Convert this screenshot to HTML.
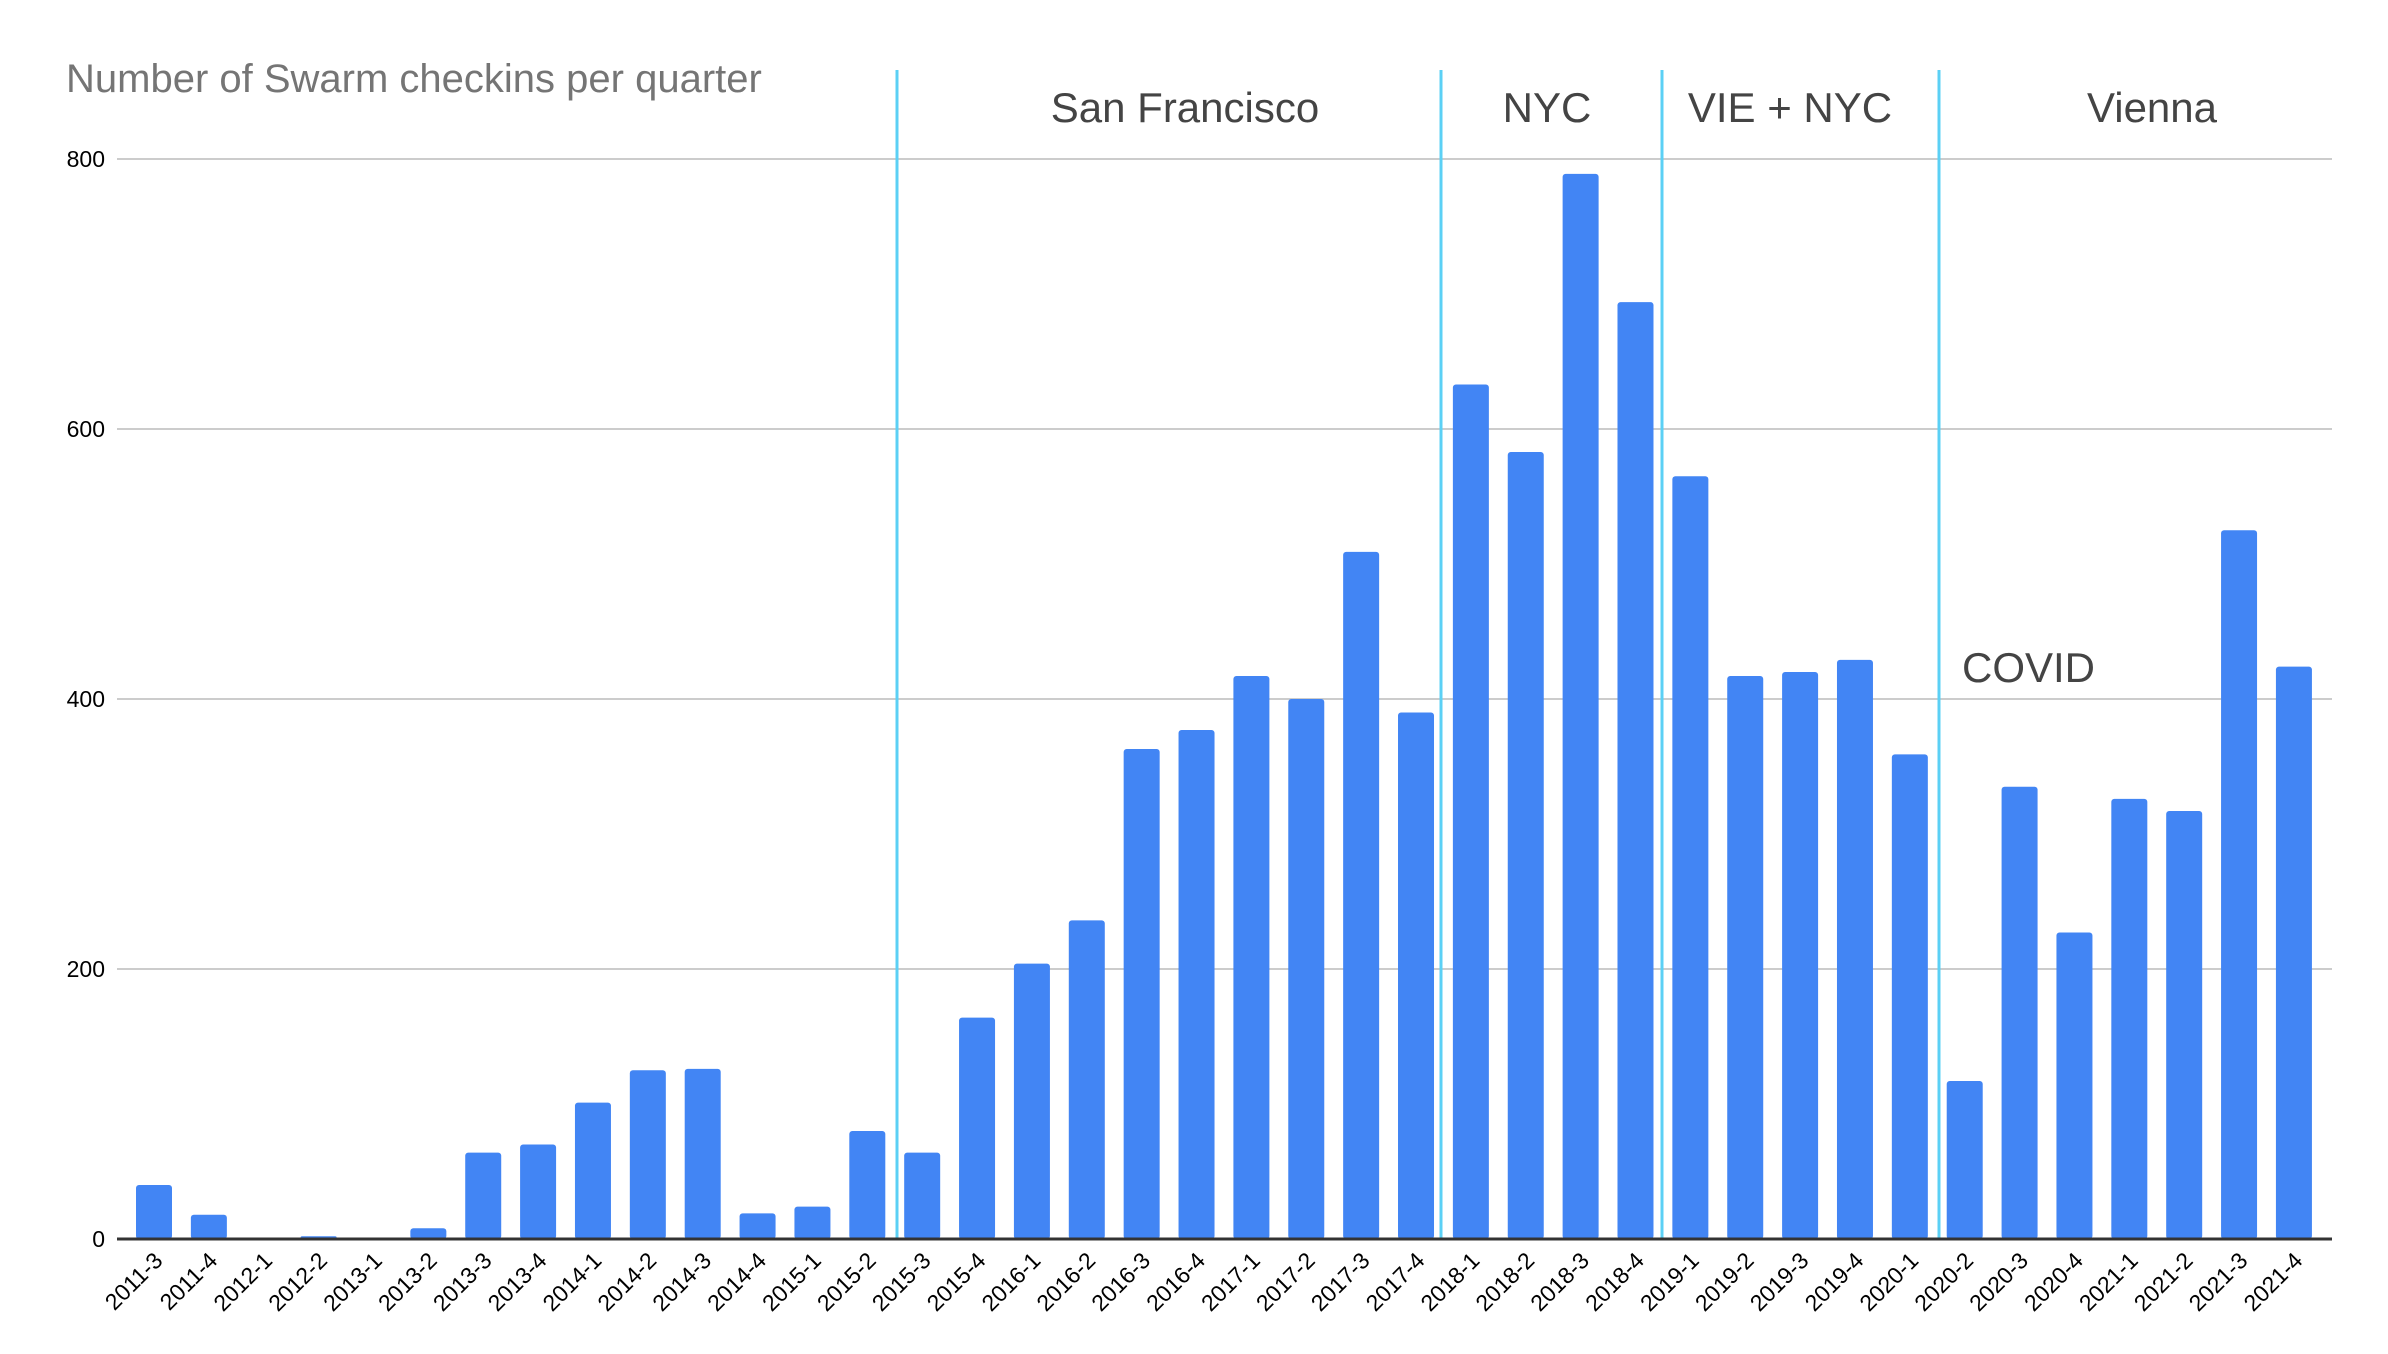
<!DOCTYPE html>
<html><head><meta charset="utf-8"><style>
html,body{margin:0;padding:0;background:#fff;}
svg{display:block;font-family:"Liberation Sans",Arial,sans-serif;}
</style></head><body>
<svg width="2388" height="1354" viewBox="0 0 2388 1354" xmlns="http://www.w3.org/2000/svg">
<rect width="2388" height="1354" fill="#fff"/>
<text x="66" y="92" font-size="40" fill="#757575">Number of Swarm checkins per quarter</text>
<g stroke="#cccccc" stroke-width="2">
<line x1="117" y1="159" x2="2332" y2="159"/>
<line x1="117" y1="429" x2="2332" y2="429"/>
<line x1="117" y1="699" x2="2332" y2="699"/>
<line x1="117" y1="969" x2="2332" y2="969"/>
</g>
<g font-size="23" fill="#000" text-anchor="end">
<text x="105" y="167">800</text>
<text x="105" y="437">600</text>
<text x="105" y="707">400</text>
<text x="105" y="977">200</text>
<text x="105" y="1247">0</text>
</g>
<g id="bars" fill="#4285f4"></g>
<g stroke="#5bd0f5" stroke-width="3">
<line x1="897" y1="70" x2="897" y2="1239"/>
<line x1="1441" y1="70" x2="1441" y2="1239"/>
<line x1="1662" y1="70" x2="1662" y2="1239"/>
<line x1="1939" y1="70" x2="1939" y2="1239"/>
</g>
<line x1="117" y1="1239" x2="2332" y2="1239" stroke="#333" stroke-width="3"/>
<g font-size="42" fill="#444" text-anchor="middle">
<text x="1185" y="122">San Francisco</text>
<text x="1547" y="122">NYC</text>
<text x="1790" y="122">VIE + NYC</text>
<text x="2152" y="122">Vienna</text>
<text x="1962" y="682" text-anchor="start">COVID</text>
</g>
<g id="labels" font-size="23" fill="#000" text-anchor="end"></g>
<script>
var names=["2011-3","2011-4","2012-1","2012-2","2013-1","2013-2","2013-3","2013-4","2014-1","2014-2","2014-3","2014-4","2015-1","2015-2","2015-3","2015-4","2016-1","2016-2","2016-3","2016-4","2017-1","2017-2","2017-3","2017-4","2018-1","2018-2","2018-3","2018-4","2019-1","2019-2","2019-3","2019-4","2020-1","2020-2","2020-3","2020-4","2021-1","2021-2","2021-3","2021-4"];
var vals=[40,18,1,2,1,8,64,70,101,125,126,19,24,80,64,164,204,236,363,377,417,400,509,390,633,583,789,694,565,417,420,429,359,117,335,227,326,317,525,424];
var ns="http://www.w3.org/2000/svg",b=document.getElementById("bars"),l=document.getElementById("labels");
for(var i=0;i<40;i++){var cx=154+i*54.87,h=vals[i]*1.35;
var r=document.createElementNS(ns,"rect");r.setAttribute("x",cx-18);r.setAttribute("y",1239-h);r.setAttribute("width",36);r.setAttribute("height",h);r.setAttribute("rx",Math.min(3,h/2));b.appendChild(r);
var t=document.createElementNS(ns,"text");var tx=cx+10,ty=1262;t.setAttribute("x",tx);t.setAttribute("y",ty);t.setAttribute("transform","rotate(-45 "+tx+" "+ty+")");t.textContent=names[i];l.appendChild(t);}
</script>
</svg>
</body></html>
